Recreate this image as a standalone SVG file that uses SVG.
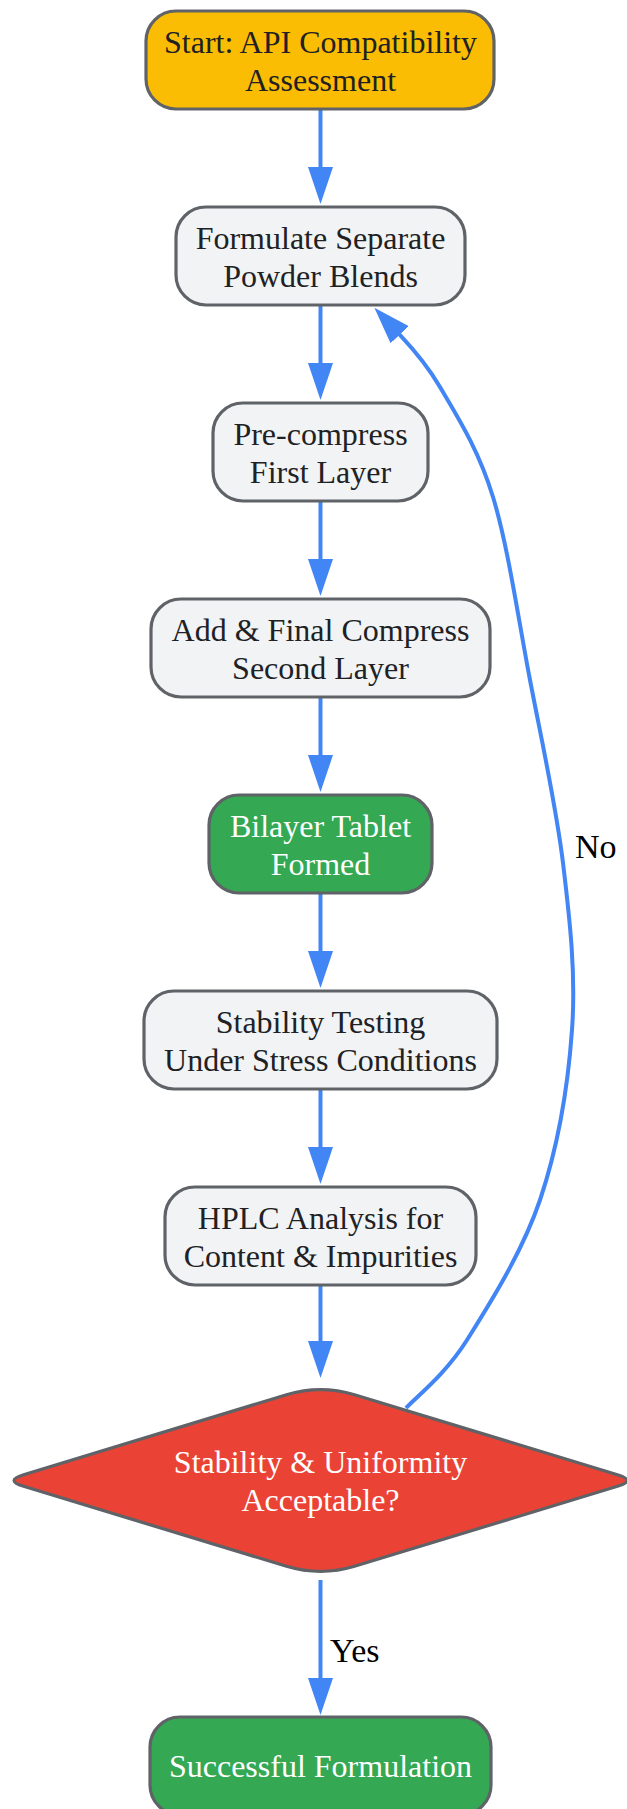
<svg xmlns="http://www.w3.org/2000/svg" width="627" height="1809" viewBox="0 0 627 1809">
<style>
.node{stroke:#5f6368;stroke-width:3.2}
.gray{fill:#f1f3f4}
.yellow{fill:#fbbc04}
.green{fill:#34a853}
.red{fill:#ea4335}
.t{font-family:"Liberation Serif","Times New Roman",serif;font-size:32px;text-anchor:middle;fill:#202124}
.w{fill:#ffffff}
.edge{fill:none;stroke:#4285f4;stroke-width:4}
.lbl{font-family:"Liberation Serif","Times New Roman",serif;font-size:34px;fill:#000000}
</style>
<defs>
<marker id="arr" markerUnits="userSpaceOnUse" markerWidth="37" markerHeight="25" viewBox="0 0 37 25" refX="1" refY="12.5" orient="auto">
<path d="M0,0 L37,12.5 L0,25 z" fill="#4285f4"/>
</marker>
</defs>
<rect width="627" height="1809" fill="#ffffff"/>
<g id="connectors">
<path class="edge" d="M320.5,109 V168" marker-end="url(#arr)"/>
<path class="edge" d="M320.5,305 V364" marker-end="url(#arr)"/>
<path class="edge" d="M320.5,501 V560" marker-end="url(#arr)"/>
<path class="edge" d="M320.5,697 V756" marker-end="url(#arr)"/>
<path class="edge" d="M320.5,893 V952" marker-end="url(#arr)"/>
<path class="edge" d="M320.5,1089 V1148" marker-end="url(#arr)"/>
<path class="edge" d="M320.5,1285 V1342" marker-end="url(#arr)"/>
<path class="edge" d="M320.5,1580 V1679" marker-end="url(#arr)"/>
<path class="edge" d="M406,1408 C416,1397 445,1375 467,1340 C489,1305 522.5,1252 540,1200 C557.5,1148 568,1086 572,1030 C576,974 570,921 563,863 C556,805 541.7,741 530,680 C518.3,619 508,546 493,497 C478,448 455.7,414 440,387 C424,360 406.5,342 399,334" marker-end="url(#arr)"/>
<text class="lbl" x="330" y="1662">Yes</text>
<text class="lbl" x="575" y="858">No</text>
</g>
<g id="start">
<rect class="node yellow" x="146" y="11" width="348" height="98" rx="30"/>
<text class="t" x="320.5" y="53">Start: API Compatibility</text>
<text class="t" x="320.5" y="90.5">Assessment</text>
</g>
<g id="formulate">
<rect class="node gray" x="176" y="207" width="289" height="98" rx="30"/>
<text class="t" x="320.5" y="249">Formulate Separate</text>
<text class="t" x="320.5" y="286.5">Powder Blends</text>
</g>
<g id="precompress">
<rect class="node gray" x="213" y="403" width="215" height="98" rx="30"/>
<text class="t" x="320.5" y="445">Pre-compress</text>
<text class="t" x="320.5" y="482.5">First Layer</text>
</g>
<g id="addfinal">
<rect class="node gray" x="151" y="599" width="339" height="98" rx="30"/>
<text class="t" x="320.5" y="641">Add &amp; Final Compress</text>
<text class="t" x="320.5" y="678.5">Second Layer</text>
</g>
<g id="bilayer">
<rect class="node green" x="209" y="795" width="223" height="98" rx="30"/>
<text class="t w" x="320.5" y="837">Bilayer Tablet</text>
<text class="t w" x="320.5" y="874.5">Formed</text>
</g>
<g id="stability">
<rect class="node gray" x="144" y="991" width="353" height="98" rx="30"/>
<text class="t" x="320.5" y="1033">Stability Testing</text>
<text class="t" x="320.5" y="1070.5">Under Stress Conditions</text>
</g>
<g id="hplc">
<rect class="node gray" x="165" y="1187" width="311" height="98" rx="30"/>
<text class="t" x="320.5" y="1229">HPLC Analysis for</text>
<text class="t" x="320.5" y="1266.5">Content &amp; Impurities</text>
</g>
<g id="decision">
<path class="node red" d="M286.5,1394.7 Q320.5,1384.5 354.5,1394.7 L617.4,1474.7 Q636.5,1480.5 617.4,1486.3 L354.5,1566.3 Q320.5,1576.5 286.5,1566.3 L23.6,1486.3 Q4.5,1480.5 23.6,1474.7 Z"/>
<text class="t w" x="320.5" y="1473">Stability &amp; Uniformity</text>
<text class="t w" x="320.5" y="1511">Acceptable?</text>
</g>
<g id="success">
<rect class="node green" x="150" y="1717" width="341" height="98" rx="30"/>
<text class="t w" x="320.5" y="1777">Successful Formulation</text>
</g>
</svg>
